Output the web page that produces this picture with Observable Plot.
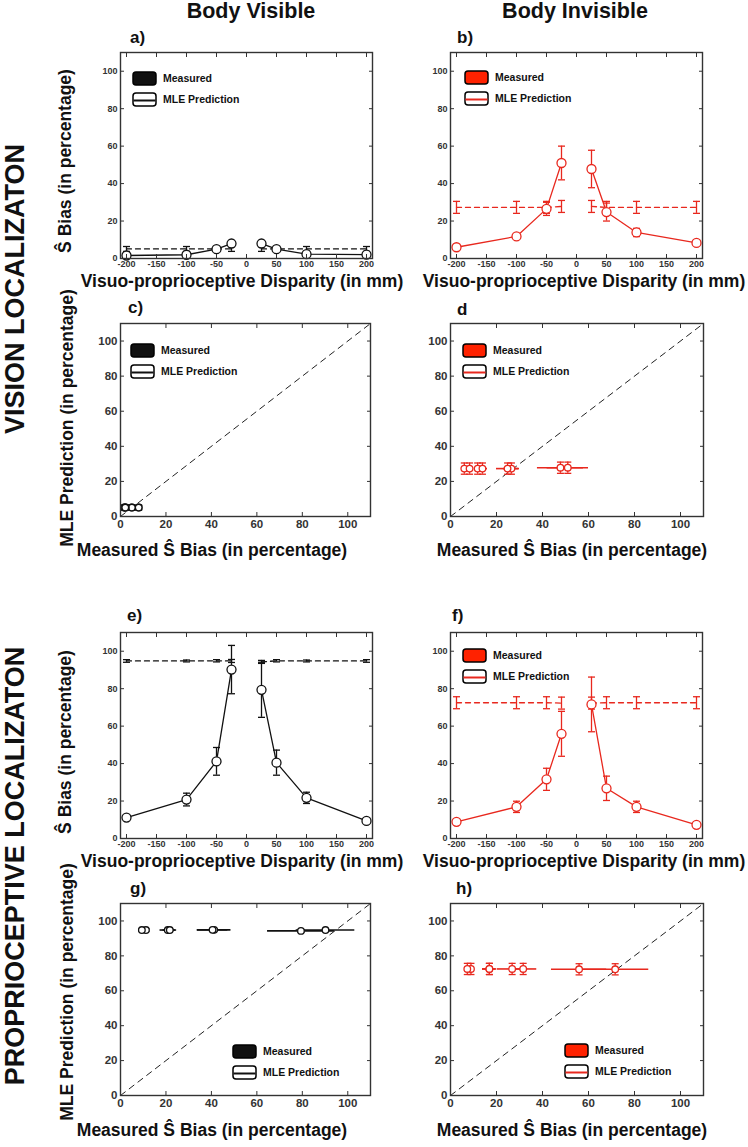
<!DOCTYPE html>
<html>
<head>
<meta charset="utf-8">
<script src="https://cdn.jsdelivr.net/npm/d3@7"></script>
<script src="https://cdn.jsdelivr.net/npm/@observablehq/plot@0.6"></script>
<style>
  body { margin: 0; background: #fff; }
  #fig { position: relative; width: 748px; height: 1147px; overflow: hidden;
         font-family: "Liberation Sans", Arial, sans-serif; font-weight: bold; color: #111; }
  #fig > * { position: absolute; }
  .c { transform: translate(-50%, -50%); white-space: nowrap; }
  .v { transform: translate(-50%, -50%) rotate(-90deg); white-space: nowrap; }
  .l { transform: translate(0, -50%); white-space: nowrap; }
  .legend { font-size: 10.5px; line-height: 1; }
  .legend .row { display: flex; align-items: center; gap: 6px; height: 15px; margin-bottom: 6px; }
  .legend svg { display: block; }
</style>
</head>
<body>
<div id="fig"></div>
<script>
const disparity = [-200, -100, -50, -25, 25, 50, 100, 200];
const disparityTicks = [-200, -150, -100, -50, 0, 50, 100, 150, 200];
const percentTicks = [0, 20, 40, 60, 80, 100];
const unityRange = [0, 110];

// a) / c) vision localization, body visible
const visVisibleMeasured   = [1.6, 2.0, 5.0, 8.0, 8.0, 5.0, 2.3, 2.1];
const visVisibleMeasuredSE = [0.6, 0.7, 0.8, 1.6, 1.6, 0.8, 0.7, 0.6];
const visVisibleMLE        = [5.1, 5.1, 5.1, 5.1, 5.1, 5.1, 5.1, 5.1];
const visVisibleMLESE      = [1.3, 1.3, 1.3, 1.3, 1.3, 1.3, 1.3, 1.3];

// b) / d) vision localization, body invisible
const visInvisibleMeasured   = [6.0, 11.8, 26.5, 51.0, 47.8, 24.8, 13.9, 8.3];
const visInvisibleMeasuredSE = [0.8, 1.2, 3.5, 9.0, 10.0, 4.8, 2.2, 1.2];
const visInvisibleMLE        = [27.3, 27.3, 27.3, 27.8, 27.8, 27.3, 27.3, 27.3];
const visInvisibleMLESE      = [3.2, 3.2, 3.2, 3.2, 3.2, 3.2, 3.2, 3.2];

// e) / g) proprioceptive localization, body visible
const propVisibleMeasured   = [11.2, 20.8, 41.2, 90.2, 79.4, 40.5, 21.7, 9.4];
const propVisibleMeasuredSE = [1.0, 3.4, 7.4, 12.9, 14.7, 6.7, 3.0, 1.0];
const propVisibleMLE        = [94.8, 94.8, 94.9, 94.8, 94.3, 94.9, 94.8, 94.8];
const propVisibleMLESE      = [0.7, 0.5, 0.6, 0.8, 0.8, 0.6, 0.5, 0.7];

// f) / h) proprioceptive localization, body invisible
const propInvisibleMeasured   = [8.9, 16.9, 31.6, 55.9, 71.6, 26.8, 16.9, 7.3];
const propInvisibleMeasuredSE = [1.0, 3.0, 5.9, 12.0, 14.6, 6.5, 3.0, 1.0];
const propInvisibleMLE        = [72.5, 72.5, 72.5, 72.3, 72.3, 72.5, 72.5, 72.5];
const propInvisibleMLESE      = [3.2, 3.2, 3.2, 3.2, 3.2, 3.2, 3.2, 3.2];

const BLACK = "#111";
const RED = "#e8281e";
const RED_FILL = "#ff2200";

function table(measured, measuredSE, mle, mleSE) {
  return disparity.map((d, i) => ({
    d, side: d < 0 ? "L" : "R",
    m: measured[i], mSE: measuredSE[i], p: mle[i], pSE: mleSE[i]
  }));
}

// horizontal error-bar cap as a Plot symbol
const cap = {draw(ctx, size) { const w = Math.sqrt(size / Math.PI); ctx.moveTo(-w, 0); ctx.lineTo(w, 0); }};

const M = {left: 34, right: 6, top: 6, bottom: 20};

function boxAxes(xTicks, yTicks, fontSize, pad) {
  const text = {fontSize, fontWeight: "bold", fill: "#333", stroke: "#333", label: null, tickFormat: d => String(d)};
  const blank = {tickFormat: () => "", stroke: "#333", label: null, tickSize: -4};
  return [
    Plot.axisX(xTicks, {...text, anchor: "bottom", tickSize: -4, tickPadding: pad}),
    Plot.axisY(yTicks, {...text, anchor: "left", tickSize: -4, tickPadding: 7}),
    Plot.axisX(xTicks, {...blank, anchor: "top"}),
    Plot.axisY(yTicks, {...blank, anchor: "right"}),
    Plot.frame({stroke: "#333", strokeWidth: 1.4})
  ];
}

function errorBarsY(rows, x, y, se, color, r) {
  return [
    Plot.ruleX(rows, {x, y1: d => d[y] - d[se], y2: d => d[y] + d[se], stroke: color, strokeWidth: 1.3}),
    Plot.dot(rows, {x, y: d => d[y] - d[se], symbol: cap, r, fill: "none", stroke: color, strokeWidth: 1.3}),
    Plot.dot(rows, {x, y: d => d[y] + d[se], symbol: cap, r, fill: "none", stroke: color, strokeWidth: 1.3})
  ];
}

function disparityPanel(rows, color, [x0, x1, y0, y1]) {
  return Plot.plot({
    width: x1 - x0 + M.left + M.right, height: y1 - y0 + M.top + M.bottom,
    marginLeft: M.left, marginRight: M.right, marginTop: M.top, marginBottom: M.bottom,
    style: {fontFamily: "Liberation Sans, Arial, sans-serif", background: "transparent"},
    x: {domain: [-210, 210]}, y: {domain: [0, 110]},
    marks: [
      Plot.line(rows, {x: "d", y: "p", z: "side", stroke: color, strokeWidth: 1.3, strokeDasharray: "5,4"}),
      ...errorBarsY(rows, "d", "p", "pSE", color, 3.5),
      Plot.line(rows, {x: "d", y: "m", z: "side", stroke: color, strokeWidth: 1.3}),
      ...errorBarsY(rows, "d", "m", "mSE", color, 3.5),
      Plot.dot(rows, {x: "d", y: "m", r: 4.5, fill: "white", stroke: color, strokeWidth: 1.3}),
      ...boxAxes(disparityTicks, percentTicks, 9, 6)
    ]
  });
}

function scatterPanel(rows, color, [x0, x1, y0, y1]) {
  return Plot.plot({
    width: x1 - x0 + M.left + M.right, height: y1 - y0 + M.top + M.bottom,
    marginLeft: M.left, marginRight: M.right, marginTop: M.top, marginBottom: M.bottom,
    style: {fontFamily: "Liberation Sans, Arial, sans-serif", background: "transparent"},
    x: {domain: [0, 110]}, y: {domain: [0, 110]},
    marks: [
      Plot.line(unityRange, {x: d => d, y: d => d, stroke: "#222", strokeWidth: 1, strokeDasharray: "6,5"}),
      Plot.ruleY(rows, {y: "p", x1: d => d.m - d.mSE, x2: d => d.m + d.mSE, stroke: color, strokeWidth: 1.6}),
      ...errorBarsY(rows, "m", "p", "pSE", color, 3.5),
      Plot.dot(rows, {x: "m", y: "p", r: 3.3, fill: "white", stroke: color, strokeWidth: 1.3}),
      ...boxAxes(percentTicks, percentTicks, 11.5, 7)
    ]
  });
}

function legend(fill, lineColor) {
  const div = document.createElement("div");
  div.className = "legend";
  div.innerHTML = `
    <div class="row"><svg width="25" height="15"><rect x="1" y="1" width="23" height="13" rx="3" fill="${fill}" stroke="#000" stroke-width="1.5"/></svg><span>Measured</span></div>
    <div class="row"><svg width="25" height="15"><rect x="1" y="1" width="23" height="13" rx="3" fill="#fff" stroke="#000" stroke-width="1.5"/><line x1="1.5" x2="23.5" y1="8.5" y2="8.5" stroke="${lineColor}" stroke-width="2"/></svg><span>MLE Prediction</span></div>`;
  return div;
}

const fig = document.getElementById("fig");
function put(el, left, top) { el.style.left = left + "px"; el.style.top = top + "px"; fig.appendChild(el); return el; }
function label(text, cls, cx, cy, size) {
  const el = document.createElement("div");
  el.className = cls; el.textContent = text; el.style.fontSize = size + "px";
  return put(el, cx, cy);
}

const visVisible = table(visVisibleMeasured, visVisibleMeasuredSE, visVisibleMLE, visVisibleMLESE);
const visInvisible = table(visInvisibleMeasured, visInvisibleMeasuredSE, visInvisibleMLE, visInvisibleMLESE);
const propVisible = table(propVisibleMeasured, propVisibleMeasuredSE, propVisibleMLE, propVisibleMLESE);
const propInvisible = table(propInvisibleMeasured, propInvisibleMeasuredSE, propInvisibleMLE, propInvisibleMLESE);

const panels = [
  {tag: "a)", make: disparityPanel, rows: visVisible,    color: BLACK, box: [120, 372, 52, 258],  legend: [132, 71],   fill: BLACK,    tagAt: [130, 38]},
  {tag: "b)", make: disparityPanel, rows: visInvisible,  color: RED,   box: [450, 702, 52, 258],  legend: [464, 70],   fill: RED_FILL, tagAt: [457, 38]},
  {tag: "c)", make: scatterPanel,   rows: visVisible,    color: BLACK, box: [120, 370, 323, 516], legend: [130, 343],  fill: BLACK,    tagAt: [128, 308]},
  {tag: "d",  make: scatterPanel,   rows: visInvisible,  color: RED,   box: [450, 703, 323, 516], legend: [462, 343],  fill: RED_FILL, tagAt: [457, 310]},
  {tag: "e)", make: disparityPanel, rows: propVisible,   color: BLACK, box: [120, 372, 632, 838], legend: null,        fill: BLACK,    tagAt: [127, 616]},
  {tag: "f)", make: disparityPanel, rows: propInvisible, color: RED,   box: [450, 702, 632, 838], legend: [462, 648],  fill: RED_FILL, tagAt: [452, 616]},
  {tag: "g)", make: scatterPanel,   rows: propVisible,   color: BLACK, box: [120, 370, 903, 1095], legend: [232, 1044], fill: BLACK,   tagAt: [130, 889]},
  {tag: "h)", make: scatterPanel,   rows: propInvisible, color: RED,   box: [450, 703, 903, 1095], legend: [564, 1043], fill: RED_FILL, tagAt: [456, 889]}
];

for (const p of panels) {
  const [x0, , y0] = p.box;
  put(p.make(p.rows, p.color, p.box), x0 - M.left, y0 - M.top);
  if (p.legend) put(legend(p.fill, p.color), p.legend[0], p.legend[1]);
  label(p.tag, "l", p.tagAt[0], p.tagAt[1], 17);
}

label("Body Visible", "c", 251, 11, 21.5);
label("Body Invisible", "c", 575, 11, 21.5);
label("VISION LOCALIZATON", "v", 15, 289, 27);
label("PROPRIOCEPTIVE LOCALIZATON", "v", 15, 866, 27);

label("Ŝ Bias (in percentage)", "v", 65, 161, 17.5);
label("Ŝ Bias (in percentage)", "v", 65, 742, 17.5);
label("MLE Prediction (in percentage)", "v", 67, 418, 17.5);
label("MLE Prediction (in percentage)", "v", 67, 992, 17.5);

label("Visuo-proprioceptive Disparity (in mm)", "c", 242, 281, 17.5);
label("Visuo-proprioceptive Disparity (in mm)", "c", 584, 281, 17.5);
label("Visuo-proprioceptive Disparity (in mm)", "c", 242, 861, 17.5);
label("Visuo-proprioceptive Disparity (in mm)", "c", 584, 861, 17.5);
label("Measured Ŝ Bias (in percentage)", "c", 212, 550, 17.5);
label("Measured Ŝ Bias (in percentage)", "c", 572, 550, 17.5);
label("Measured Ŝ Bias (in percentage)", "c", 212, 1130, 17.5);
label("Measured Ŝ Bias (in percentage)", "c", 572, 1130, 17.5);
</script>
</body>
</html>
